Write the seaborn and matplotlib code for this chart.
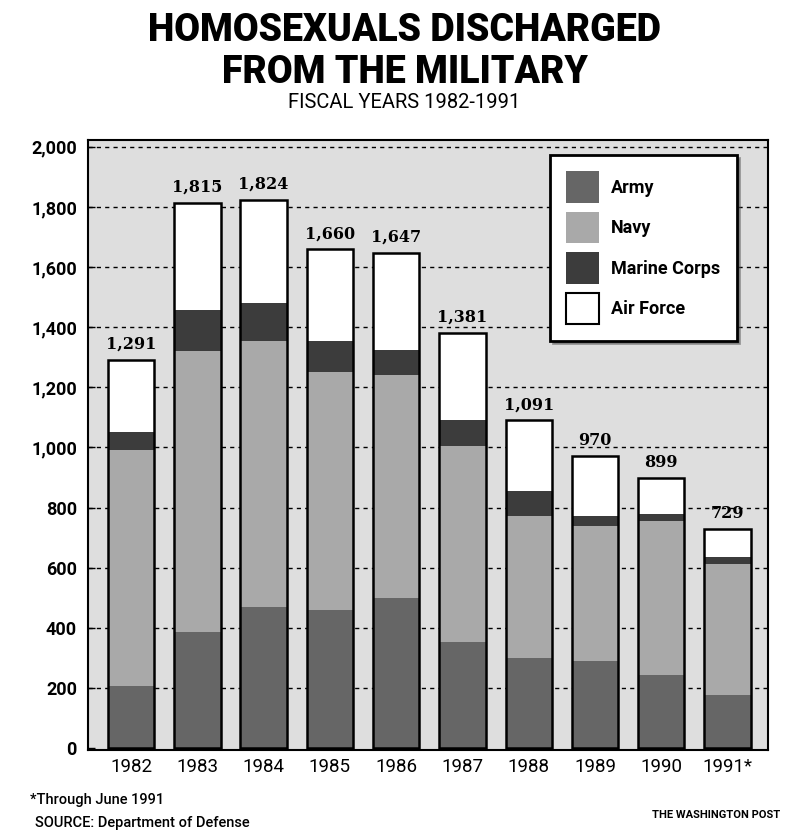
import matplotlib
matplotlib.use("Agg")
import matplotlib.pyplot as plt
from matplotlib.patches import Patch
from matplotlib.ticker import FuncFormatter
import seaborn as sns
import pandas as pd
import numpy as np

years = ["1982", "1983", "1984", "1985", "1986", "1987", "1988", "1989", "1990", "1991*"]
army = [205, 386, 470, 460, 500, 353, 300, 290, 243, 177]
navy = [785, 935, 884, 791, 740, 651, 471, 448, 511, 436]
marine = [60, 136, 125, 103, 83, 87, 83, 33, 23, 23]
air_force = [241, 358, 345, 306, 324, 290, 237, 199, 122, 93]
total_labels = ["1,291", "1,815", "1,824", "1,660", "1,647", "1,381", "1,091", "970", "899", "729"]
yticks = list(range(0, 2001, 200))

sns.set_theme(style="white")
plt.rcParams["font.family"] = ["Roboto", "DejaVu Sans"]
plt.rcParams["text.color"] = "black"
plt.rcParams["xtick.color"] = "black"
plt.rcParams["ytick.color"] = "black"
narrow = ["Roboto", "DejaVu Sans"]

df = pd.DataFrame({"year": years, "Army": army, "Navy": navy,
                   "Marine Corps": marine, "Air Force": air_force})
df["c1"] = df["Army"]
df["c2"] = df["c1"] + df["Navy"]
df["c3"] = df["c2"] + df["Marine Corps"]
df["c4"] = df["c3"] + df["Air Force"]

colors = {"Army": "#666666", "Navy": "#a9a9a9", "Marine Corps": "#3c3c3c", "Air Force": "#ffffff"}

fig = plt.figure(figsize=(8.01, 8.32), dpi=100)
ax = fig.add_axes([88/801, 82/832, 680/801, 610/832])
ax.set_facecolor("#dedede")

order = [("c4", "Air Force"), ("c3", "Marine Corps"), ("c2", "Navy"), ("c1", "Army")]
for col, name in order:
    sns.barplot(data=df, x="year", y=col, color=colors[name], width=0.7,
                saturation=1, edgecolor="none", linewidth=0, ax=ax, zorder=2)
sns.barplot(data=df, x="year", y="c4", fill=False, width=0.7, edgecolor="black",
            linewidth=1.8, ax=ax, zorder=3)

ax.set_xlim(-0.65, 9.61)
ax.set_ylim(-7, 2023)
ax.set_yticks(yticks)
ax.yaxis.set_major_formatter(FuncFormatter(lambda v, p: f"{int(v):,}"))
ax.yaxis.grid(True, color="black", linestyle=(0, (3, 3)), linewidth=1.0, zorder=1)
ax.get_ygridlines()[0].set_visible(False)
ax.set_axisbelow(True)
ax.set_xlabel("")
ax.set_ylabel("")
ax.tick_params(axis="y", direction="in", length=5, width=1, labelsize=13, pad=8, left=True)
ax.tick_params(axis="x", length=0, labelsize=13.5, pad=6)
for lab in ax.get_yticklabels():
    lab.set_fontweight("bold")
for s in ax.spines.values():
    s.set_visible(True)
    s.set_color("black")
    s.set_linewidth(1.5)

for i, (tot, lab) in enumerate(zip(df["c4"], total_labels)):
    ax.annotate(lab, (i, tot), xytext=(0, 5), textcoords="offset points",
                ha="center", va="bottom", fontsize=11.5, fontweight="bold",
                family=["DejaVu Serif"], zorder=4)

handles = [Patch(facecolor=colors[n], edgecolor="black" if n == "Air Force" else "none",
                 linewidth=1.5, label=n) for n in ["Army", "Navy", "Marine Corps", "Air Force"]]
leg = ax.legend(handles=handles, loc="upper right", bbox_to_anchor=(0.954, 0.975),
                borderaxespad=0, frameon=True, fancybox=False, shadow=True,
                fontsize=13, handlelength=1.8, handleheight=2.3, labelspacing=0.5,
                borderpad=0.9, handletextpad=0.7)
leg.get_frame().set_edgecolor("black")
leg.get_frame().set_linewidth(2)
leg.get_frame().set_facecolor("white")
leg.set_zorder(5)
for t in leg.get_texts():
    t.set_fontweight("bold")

fig.text(0.505, 0.963, "HOMOSEXUALS DISCHARGED", ha="center", va="center",
         fontsize=27, fontweight="black", family=narrow)
fig.text(0.505, 0.913, "FROM THE MILITARY", ha="center", va="center",
         fontsize=27, fontweight="black", family=narrow)
fig.text(0.505, 0.877, "FISCAL YEARS 1982-1991", ha="center", va="center",
         fontsize=14.5, family=narrow)

fig.text(30/801, 1 - 800/832, "*Through June 1991", ha="left", va="center",
         fontsize=10.5, fontweight="medium", family=narrow)
fig.text(35/801, 1 - 823/832, "SOURCE: Department of Defense", ha="left", va="center",
         fontsize=10.5, fontweight="medium", family=narrow)
fig.text(780/801, 1 - 815/832, "THE WASHINGTON POST", ha="right", va="center",
         fontsize=8, fontweight="bold", family=narrow)

fig.savefig("out.png", dpi=100)
